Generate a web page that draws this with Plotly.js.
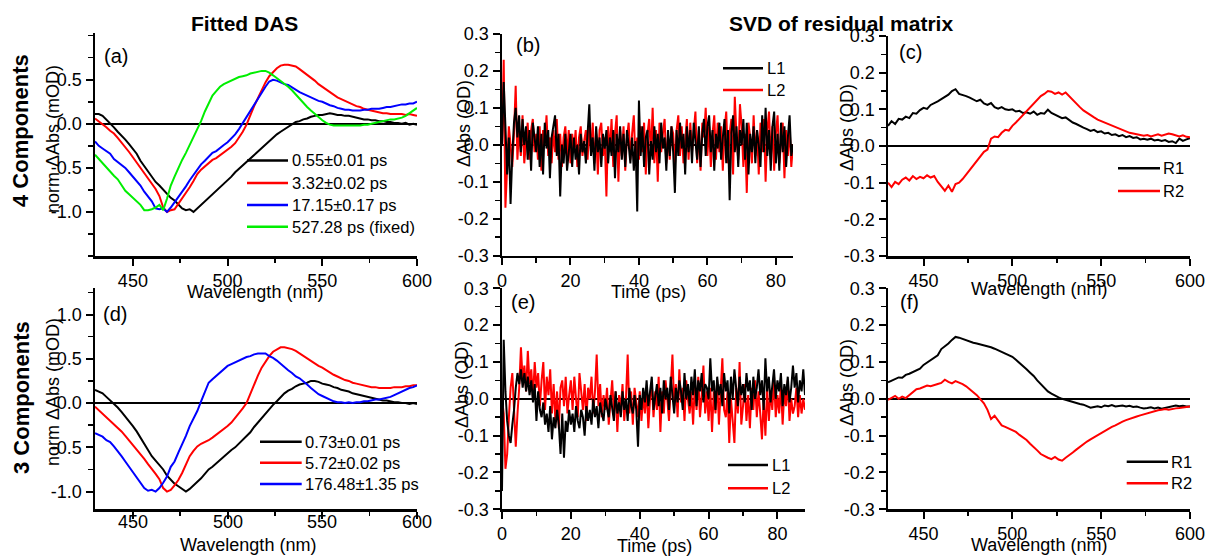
<!DOCTYPE html>
<html><head><meta charset="utf-8">
<script src="https://cdn.plot.ly/plotly-3.0.1.min.js"></script>
<style>html,body{margin:0;padding:0;background:#fff}#chart{width:1206px;height:558px}</style>
</head><body><div id="chart"></div>
<script>
// ---------------- DATA ----------------
const wavelength = [
430,432,434,436,438,440,442,444,446,448,
450,452,454,456,458,460,462,464,466,468,
470,472,474,476,478,480,482,484,486,488,
490,492,494,496,498,500,502,504,506,508,
510,512,514,516,518,520,522,524,526,528,
530,532,534,536,538,540,542,544,546,548,
550,552,554,556,558,560,562,564,566,568,
570,572,574,576,578,580,582,584,586,588,
590,592,594,596,598,600];

const time = [
0,0.5,1,1.5,2,2.5,3,3.5,4,4.5,
5,5.5,6,6.5,7,7.5,8,8.5,9,9.5,
10,10.5,11,11.5,12,12.5,13,13.5,14,14.5,
15,15.5,16,16.5,17,17.5,18,18.5,19,19.5,
20,20.5,21,21.5,22,22.5,23,23.5,24,24.5,
25,25.5,26,26.5,27,27.5,28,28.5,29,29.5,
30,30.5,31,31.5,32,32.5,33,33.5,34,34.5,
35,35.5,36,36.5,37,37.5,38,38.5,39,39.5,
40,40.5,41,41.5,42,42.5,43,43.5,44,44.5,
45,45.5,46,46.5,47,47.5,48,48.5,49,49.5,
50,50.5,51,51.5,52,52.5,53,53.5,54,54.5,
55,55.5,56,56.5,57,57.5,58,58.5,59,59.5,
60,60.5,61,61.5,62,62.5,63,63.5,64,64.5,
65,65.5,66,66.5,67,67.5,68,68.5,69,69.5,
70,70.5,71,71.5,72,72.5,73,73.5,74,74.5,
75,75.5,76,76.5,77,77.5,78,78.5,79,79.5,
80,80.5,81,81.5,82,82.5,83,83.5,84,84.5,
85,85.5,86,86.5,87,87.5,88];

// (a) 4-component DAS
const das4_055 = [
0.11,0.11,0.09,0.05,0.01,-0.04,-0.09,-0.13,-0.18,-0.23,
-0.28,-0.34,-0.42,-0.48,-0.54,-0.6,-0.66,-0.7,-0.75,-0.8,
-0.84,-0.87,-0.92,-0.96,-0.98,-0.97,-1.0,-0.96,-0.93,-0.88,
-0.84,-0.8,-0.77,-0.72,-0.68,-0.64,-0.6,-0.55,-0.51,-0.47,
-0.43,-0.39,-0.35,-0.31,-0.27,-0.23,-0.19,-0.16,-0.12,-0.09,
-0.06,-0.03,0.0,0.02,0.03,0.05,0.06,0.08,0.09,0.1,
0.1,0.11,0.12,0.11,0.1,0.1,0.09,0.09,0.08,0.07,
0.06,0.05,0.05,0.04,0.04,0.03,0.03,0.02,0.02,0.01,
0.01,0.0,0.01,-0.01,0.0,-0.01];
const das4_332 = [
0.06,0.03,-0.01,-0.04,-0.08,-0.11,-0.16,-0.21,-0.26,-0.32,
-0.38,-0.44,-0.5,-0.56,-0.62,-0.68,-0.74,-0.82,-0.95,-1.0,
-0.98,-0.97,-0.91,-0.85,-0.78,-0.72,-0.65,-0.57,-0.52,-0.48,
-0.44,-0.41,-0.39,-0.36,-0.33,-0.3,-0.26,-0.22,-0.16,-0.09,
-0.01,0.1,0.2,0.29,0.38,0.47,0.54,0.59,0.63,0.66,
0.67,0.67,0.66,0.65,0.62,0.59,0.56,0.52,0.49,0.45,
0.42,0.39,0.36,0.33,0.3,0.28,0.26,0.24,0.22,0.2,
0.19,0.17,0.16,0.15,0.14,0.13,0.12,0.12,0.11,0.11,
0.11,0.11,0.1,0.11,0.1,0.09];
const das4_1715 = [
-0.2,-0.25,-0.28,-0.31,-0.34,-0.4,-0.43,-0.47,-0.5,-0.55,
-0.6,-0.64,-0.7,-0.77,-0.82,-0.88,-0.96,-0.97,-0.96,-1.0,
-0.95,-0.89,-0.84,-0.77,-0.71,-0.64,-0.58,-0.51,-0.46,-0.42,
-0.37,-0.33,-0.31,-0.27,-0.24,-0.21,-0.17,-0.12,-0.06,0.01,
0.08,0.14,0.22,0.29,0.35,0.42,0.48,0.5,0.49,0.47,
0.45,0.44,0.41,0.39,0.36,0.34,0.32,0.3,0.28,0.26,
0.25,0.23,0.21,0.2,0.18,0.17,0.16,0.16,0.15,0.15,
0.15,0.16,0.16,0.17,0.17,0.17,0.18,0.19,0.19,0.2,
0.21,0.22,0.22,0.23,0.23,0.25];
const das4_52728 = [
-0.35,-0.4,-0.44,-0.49,-0.54,-0.59,-0.63,-0.7,-0.76,-0.8,
-0.84,-0.87,-0.92,-0.98,-0.98,-0.97,-0.95,-0.92,-0.98,-0.85,
-0.7,-0.6,-0.5,-0.41,-0.33,-0.24,-0.16,-0.06,0.03,0.14,
0.24,0.32,0.37,0.42,0.45,0.47,0.49,0.51,0.53,0.54,
0.55,0.57,0.58,0.59,0.6,0.6,0.58,0.55,0.52,0.49,
0.46,0.42,0.38,0.33,0.28,0.23,0.19,0.15,0.11,0.07,
0.04,0.01,-0.01,-0.02,-0.02,-0.02,-0.02,-0.02,-0.02,-0.02,
-0.02,-0.01,-0.01,0.0,0.01,0.02,0.03,0.04,0.05,0.05,
0.06,0.07,0.09,0.12,0.15,0.18];

// (d) 3-component DAS
const das3_073 = [
0.15,0.13,0.11,0.07,0.03,0.0,-0.05,-0.1,-0.15,-0.2,
-0.26,-0.32,-0.39,-0.46,-0.53,-0.6,-0.65,-0.7,-0.75,-0.82,
-0.87,-0.91,-0.94,-0.97,-1.0,-0.97,-0.93,-0.9,-0.85,-0.8,
-0.75,-0.72,-0.68,-0.64,-0.6,-0.57,-0.53,-0.5,-0.46,-0.42,
-0.38,-0.33,-0.27,-0.22,-0.16,-0.11,-0.07,-0.02,0.02,0.07,
0.11,0.14,0.16,0.19,0.21,0.22,0.23,0.25,0.25,0.24,
0.22,0.21,0.2,0.18,0.17,0.15,0.14,0.13,0.11,0.1,
0.09,0.08,0.07,0.06,0.05,0.04,0.03,0.03,0.02,0.01,
0.01,0.0,0.0,-0.01,0.0,-0.01];
const das3_572 = [
-0.04,-0.08,-0.12,-0.15,-0.19,-0.23,-0.28,-0.32,-0.37,-0.42,
-0.47,-0.52,-0.58,-0.63,-0.69,-0.74,-0.8,-0.86,-0.96,-1.0,
-0.98,-0.93,-0.87,-0.79,-0.7,-0.6,-0.54,-0.49,-0.46,-0.44,
-0.42,-0.39,-0.36,-0.33,-0.29,-0.26,-0.22,-0.17,-0.12,-0.06,
0.0,0.11,0.21,0.31,0.4,0.47,0.53,0.58,0.61,0.63,
0.63,0.62,0.61,0.59,0.56,0.53,0.5,0.48,0.45,0.42,
0.4,0.37,0.35,0.32,0.3,0.28,0.26,0.25,0.23,0.22,
0.21,0.2,0.19,0.18,0.18,0.17,0.17,0.17,0.17,0.18,
0.18,0.18,0.19,0.19,0.2,0.2];
const das3_17648 = [
-0.34,-0.36,-0.38,-0.42,-0.44,-0.49,-0.54,-0.6,-0.66,-0.72,
-0.79,-0.84,-0.9,-0.96,-0.99,-0.98,-1.0,-0.96,-0.9,-0.83,
-0.72,-0.66,-0.56,-0.47,-0.37,-0.26,-0.18,-0.09,0.02,0.13,
0.23,0.27,0.31,0.35,0.38,0.42,0.44,0.46,0.48,0.5,
0.52,0.53,0.55,0.56,0.56,0.56,0.53,0.51,0.48,0.44,
0.41,0.37,0.34,0.3,0.28,0.25,0.21,0.17,0.13,0.1,
0.08,0.06,0.04,0.02,0.01,0.01,0.0,0.01,0.0,0.01,
0.01,0.02,0.02,0.03,0.04,0.04,0.05,0.06,0.07,0.09,
0.11,0.13,0.15,0.17,0.18,0.2];

// (b) left singular vectors, 4 components
const svd4_L1 = [
0.0,0.17,0.05,-0.08,0.02,-0.16,-0.03,0.06,0.1,0.02,
0.08,-0.02,0.07,0.0,0.05,-0.04,0.04,-0.07,0.06,0.01,
-0.02,0.05,-0.06,0.03,-0.08,0.06,-0.01,0.04,-0.09,0.02,
0.05,0.08,-0.03,0.03,-0.14,0.0,-0.05,0.03,-0.07,-0.02,
0.03,-0.06,0.02,-0.04,0.0,-0.08,0.03,-0.02,0.01,-0.05,
0.04,0.11,-0.03,0.02,-0.07,0.05,-0.02,0.02,-0.06,0.03,
-0.01,0.04,-0.05,0.02,-0.03,0.04,-0.09,0.03,-0.02,0.05,
-0.04,0.03,-0.06,0.04,0.0,-0.05,0.02,-0.07,0.01,-0.18,
0.12,-0.03,0.05,-0.06,0.02,0.04,-0.08,0.01,-0.04,0.05,
-0.02,0.03,-0.05,0.06,-0.01,0.02,-0.07,0.04,-0.03,0.05,
-0.02,-0.13,0.04,-0.03,0.06,-0.01,0.03,-0.08,0.05,-0.02,
0.04,-0.05,0.06,0.0,-0.04,0.05,-0.06,0.03,0.07,-0.03,
0.05,0.08,-0.02,0.04,-0.07,0.03,-0.01,0.06,-0.04,0.02,
0.07,-0.05,0.04,-0.15,0.03,0.08,-0.02,0.05,-0.06,0.04,
0.0,0.07,-0.04,0.06,-0.08,0.03,-0.02,0.05,-0.05,0.04,
0.0,-0.06,0.08,-0.02,0.1,-0.03,0.04,-0.07,0.05,0.09,
-0.05,0.03,-0.07,0.06,-0.02,0.05,-0.06,0.02,0.08,-0.03,
0.0];
const svd4_L2 = [
0.0,0.23,-0.17,-0.05,0.05,0.0,-0.06,0.03,0.16,-0.04,
0.05,-0.03,0.08,-0.05,0.02,0.06,-0.04,0.04,0.07,-0.02,
0.03,-0.04,0.05,-0.07,0.04,0.0,0.08,-0.03,0.02,-0.05,
0.04,-0.02,0.07,-0.04,0.03,-0.06,0.02,0.05,-0.03,0.04,
-0.05,0.03,-0.02,0.04,-0.06,0.02,0.05,-0.03,0.01,0.04,
-0.04,0.05,-0.02,0.06,-0.05,0.03,-0.08,0.04,0.06,-0.03,
0.02,-0.14,0.05,-0.02,0.07,-0.06,0.03,0.08,-0.1,0.04,
-0.03,0.05,-0.07,0.02,0.06,-0.04,0.03,0.08,-0.05,0.02,
-0.04,0.05,-0.02,0.06,-0.08,0.03,0.07,-0.03,0.1,-0.05,
0.04,-0.1,0.06,-0.02,0.03,0.07,-0.05,0.02,-0.04,0.05,
0.03,-0.06,0.04,0.08,-0.03,0.05,-0.05,0.02,0.07,-0.04,
0.06,-0.02,0.03,0.09,-0.05,0.04,-0.07,0.06,0.02,0.1,
-0.03,0.05,-0.06,0.03,0.08,-0.04,0.06,-0.02,0.05,-0.07,
0.04,0.09,-0.05,0.03,0.07,-0.08,0.13,0.02,-0.04,0.11,
0.05,-0.06,0.03,-0.13,0.06,0.02,-0.05,0.08,-0.03,0.04,
-0.08,0.06,-0.02,0.07,-0.1,0.04,0.09,-0.04,0.05,-0.07,
0.03,0.08,-0.05,0.02,0.06,-0.09,0.04,-0.03,0.05,-0.06,
0.0];

// (e) left singular vectors, 3 components
const svd3_L1 = [
-0.25,0.16,0.02,-0.06,-0.1,-0.12,-0.07,-0.03,0.03,0.07,
0.04,0.08,0.03,0.07,0.02,0.06,0.01,0.05,-0.01,0.04,
-0.06,0.02,-0.03,-0.05,-0.01,-0.07,-0.04,-0.09,-0.02,-0.11,
-0.05,-0.08,-0.03,-0.07,-0.15,-0.04,-0.16,-0.06,-0.09,-0.03,
-0.07,-0.04,-0.09,-0.02,-0.06,-0.08,-0.03,-0.05,-0.1,-0.02,
-0.06,-0.03,-0.07,0.0,-0.05,-0.02,-0.08,-0.01,-0.04,-0.06,
0.0,-0.03,-0.05,0.01,-0.02,-0.06,0.02,-0.04,-0.01,-0.05,
0.02,-0.03,0.0,-0.06,0.03,-0.02,-0.04,0.01,-0.03,-0.13,
0.01,-0.03,0.03,-0.01,0.05,-0.02,0.02,0.06,-0.03,0.01,
0.04,-0.02,0.03,-0.04,0.05,0.0,0.03,-0.03,0.06,0.01,
-0.04,0.03,-0.01,0.05,0.02,-0.03,0.07,0.0,0.04,-0.02,
0.06,0.01,0.08,-0.02,0.05,0.02,0.07,-0.01,0.04,0.03,
0.0,0.11,0.02,0.05,-0.03,0.06,0.01,0.04,-0.02,0.07,
0.02,0.05,-0.04,0.06,0.0,0.08,0.03,-0.02,0.06,0.01,
0.04,-0.01,0.07,0.02,0.05,-0.03,0.06,0.0,0.03,0.08,
0.01,0.05,-0.03,0.11,0.02,0.06,-0.01,0.04,0.08,0.0,
0.05,0.02,0.07,-0.02,0.04,0.01,0.06,-0.01,0.03,0.09,
0.03,0.07,-0.01,0.05,0.02,0.08,0.01];
const svd3_L2 = [
0.0,-0.04,-0.19,-0.15,-0.05,0.03,0.07,-0.02,-0.13,-0.04,
0.03,0.14,0.05,0.09,0.02,0.13,0.04,0.08,0.0,0.1,
0.03,0.07,-0.02,0.05,0.1,-0.03,0.06,0.01,0.08,-0.04,
0.04,-0.06,0.02,-0.08,0.03,0.05,-0.02,0.06,-0.04,0.01,
0.05,-0.03,0.06,0.0,-0.05,0.07,0.02,-0.03,0.04,-0.06,
0.03,0.0,0.06,-0.04,0.02,0.12,-0.02,0.04,-0.05,0.01,
-0.03,0.03,-0.07,0.0,0.05,-0.04,0.02,-0.09,0.01,-0.03,
0.04,-0.06,0.0,0.12,-0.04,0.02,-0.07,0.03,-0.02,-0.05,
0.02,-0.06,0.01,-0.04,0.03,-0.08,0.0,0.04,-0.05,0.02,
-0.03,0.06,-0.09,0.02,-0.04,0.05,0.0,-0.06,0.03,0.12,
-0.02,0.04,-0.05,0.08,-0.01,0.03,-0.06,0.05,0.0,-0.04,
0.02,-0.07,0.04,-0.03,0.06,-0.05,0.01,0.09,-0.04,0.02,
-0.06,0.03,-0.09,0.02,-0.04,0.05,-0.07,0.01,0.11,-0.03,
-0.05,0.02,-0.12,0.0,-0.06,-0.12,0.03,-0.04,0.1,-0.07,
-0.02,0.04,-0.06,0.01,-0.08,0.03,-0.03,0.05,-0.05,0.02,
-0.04,-0.11,0.0,-0.1,0.03,-0.06,0.02,-0.03,0.06,-0.05,
0.01,-0.04,0.04,-0.07,0.02,-0.02,0.05,-0.06,0.0,-0.04,
-0.02,0.03,-0.05,0.01,-0.04,0.0,-0.03];

// (c) right singular vectors, 4 components
const svd4_R1 = [
0.055,0.068,0.060,0.074,0.072,0.080,0.076,0.090,0.088,0.098,
0.104,0.101,0.112,0.116,0.122,0.128,0.135,0.140,0.150,0.155,
0.142,0.140,0.136,0.132,0.128,0.122,0.126,0.116,0.112,0.117,
0.106,0.102,0.106,0.100,0.098,0.100,0.094,0.096,0.090,0.092,
0.088,0.094,0.085,0.090,0.088,0.099,0.090,0.085,0.082,0.076,
0.078,0.070,0.064,0.060,0.054,0.050,0.046,0.041,0.044,0.038,
0.040,0.034,0.036,0.030,0.032,0.027,0.030,0.024,0.027,0.022,
0.024,0.018,0.020,0.017,0.020,0.015,0.017,0.014,0.016,0.011,
0.013,0.008,0.020,0.014,0.018,0.021];
const svd4_R2 = [
-0.100,-0.112,-0.098,-0.104,-0.092,-0.086,-0.094,-0.082,-0.090,-0.084,
-0.088,-0.080,-0.086,-0.082,-0.098,-0.110,-0.122,-0.108,-0.125,-0.104,
-0.100,-0.090,-0.078,-0.064,-0.054,-0.042,-0.030,-0.016,-0.010,0.020,
0.026,0.024,0.036,0.044,0.042,0.055,0.064,0.074,0.086,0.096,
0.106,0.114,0.126,0.136,0.142,0.150,0.148,0.142,0.146,0.140,
0.146,0.136,0.124,0.114,0.106,0.097,0.090,0.083,0.078,0.072,
0.068,0.064,0.058,0.055,0.050,0.047,0.044,0.040,0.036,0.034,
0.033,0.030,0.028,0.030,0.026,0.028,0.032,0.028,0.031,0.034,
0.032,0.030,0.026,0.029,0.025,0.024];

// (f) right singular vectors, 3 components
const svd3_R1 = [
0.045,0.050,0.054,0.058,0.057,0.065,0.068,0.072,0.078,0.082,
0.092,0.098,0.106,0.112,0.118,0.135,0.142,0.150,0.160,0.168,
0.166,0.162,0.160,0.156,0.152,0.150,0.148,0.145,0.142,0.140,
0.136,0.132,0.128,0.124,0.120,0.114,0.106,0.098,0.090,0.080,
0.071,0.062,0.050,0.040,0.030,0.020,0.014,0.008,0.004,0.000,
-0.003,-0.006,-0.010,-0.013,-0.014,-0.016,-0.020,-0.024,-0.022,-0.020,
-0.023,-0.018,-0.020,-0.017,-0.021,-0.020,-0.018,-0.021,-0.019,-0.022,
-0.021,-0.024,-0.026,-0.025,-0.023,-0.026,-0.024,-0.027,-0.025,-0.024,
-0.022,-0.018,-0.020,-0.019,-0.021,-0.021];
const svd3_R2 = [
-0.003,0.002,0.008,0.000,0.006,0.002,0.010,0.020,0.026,0.028,
0.032,0.036,0.034,0.036,0.040,0.043,0.052,0.046,0.042,0.048,
0.045,0.040,0.034,0.025,0.018,0.010,0.000,-0.012,-0.030,-0.055,
-0.046,-0.060,-0.072,-0.076,-0.080,-0.085,-0.090,-0.098,-0.104,-0.112,
-0.122,-0.130,-0.140,-0.150,-0.156,-0.160,-0.164,-0.158,-0.165,-0.168,
-0.160,-0.154,-0.146,-0.138,-0.130,-0.124,-0.116,-0.110,-0.104,-0.098,
-0.093,-0.088,-0.082,-0.076,-0.072,-0.066,-0.062,-0.058,-0.054,-0.050,
-0.048,-0.045,-0.042,-0.040,-0.036,-0.034,-0.031,-0.030,-0.028,-0.030,
-0.027,-0.026,-0.025,-0.023,-0.022,-0.021];

// labels
const das4Names = ['0.55\u00b10.01 ps','3.32\u00b10.02 ps','17.15\u00b10.17 ps','527.28 ps (fixed)'];
const das3Names = ['0.73\u00b10.01 ps','5.72\u00b10.02 ps','176.48\u00b11.35 ps'];
const wlTicks = [450,500,550,600];
const wlTickText = ['450','500','550','600'];
const timeTicks = [0,20,40,60,80];
const timeTickText = ['0','20','40','60','80'];
const dasTicksA = [-1,-0.5,0,0.5];
const dasTickTextA = ['-1.0','-0.5','0.0','0.5'];
const dasTicksD = [-1,-0.5,0,0.5,1];
const dasTickTextD = ['-1.0','-0.5','0.0','0.5','1.0'];
const odTicks = [-0.3,-0.2,-0.1,0,0.1,0.2,0.3];
const odTickText = ['-0.3','-0.2','-0.1','0.0','0.1','0.2','0.3'];

// ---------------- LAYOUT ----------------
const W = 1206, H = 558;
const px = v => v / W;
const py = v => 1 - v / H;
const FONT = 'Arial, "Liberation Sans", sans-serif';
const BLACK = '#000000', RED = '#ff0000', BLUE = '#0000ff', GREEN = '#00ee00';
const TICKSIZE = 18, TITLESIZE = 18, LEGSIZE = 16.5;

function xAx(domPx, range, tv, tt, minorD, anchor, showLabels) {
  return {domain:[px(domPx[0]), px(domPx[1])], range:range, anchor:anchor,
    showline:true, linecolor:BLACK, linewidth:2.5, showgrid:false, zeroline:false,
    ticks:'outside', ticklen:7, tickwidth:2, tickcolor:BLACK,
    tickmode:'array', tickvals:tv, ticktext:tt, showticklabels:showLabels !== false,
    tickfont:{family:FONT, size:TICKSIZE, color:BLACK},
    minor:{tickmode:'linear', tick0:0, dtick:minorD, ticks:'outside', ticklen:4.5, tickwidth:1.5, tickcolor:BLACK, showgrid:false},
    fixedrange:true};
}
function yAx(domPx, range, tv, tt, minorD, anchor) {
  return {domain:[py(domPx[1]), py(domPx[0])], range:range, anchor:anchor,
    showline:true, linecolor:BLACK, linewidth:2.5, showgrid:false,
    zeroline:true, zerolinecolor:BLACK, zerolinewidth:2,
    ticks:'outside', ticklen:7, tickwidth:2, tickcolor:BLACK,
    tickmode:'array', tickvals:tv, ticktext:tt,
    tickfont:{family:FONT, size:TICKSIZE, color:BLACK},
    minor:{tickmode:'linear', tick0:0, dtick:minorD, ticks:'outside', ticklen:4.5, tickwidth:1.5, tickcolor:BLACK, showgrid:false},
    fixedrange:true};
}

const traces = [];
function line(x, y, color, name, xa, ya) {
  traces.push({type:'scatter', mode:'lines', x:x, y:y, name:name,
    line:{color:color, width:2}, xaxis:xa, yaxis:ya, showlegend:false, hoverinfo:'skip'});
}
// (a)
line(wavelength, das4_055, BLACK, das4Names[0], 'x', 'y');
line(wavelength, das4_332, RED, das4Names[1], 'x', 'y');
line(wavelength, das4_1715, BLUE, das4Names[2], 'x', 'y');
line(wavelength, das4_52728, GREEN, das4Names[3], 'x', 'y');
// (b)
line(time, svd4_L2, RED, 'L2', 'x2', 'y2');
line(time, svd4_L1, BLACK, 'L1', 'x2', 'y2');
// (c)
line(wavelength, svd4_R1, BLACK, 'R1', 'x3', 'y3');
line(wavelength, svd4_R2, RED, 'R2', 'x3', 'y3');
// (d)
line(wavelength, das3_073, BLACK, das3Names[0], 'x4', 'y4');
line(wavelength, das3_572, RED, das3Names[1], 'x4', 'y4');
line(wavelength, das3_17648, BLUE, das3Names[2], 'x4', 'y4');
// (e)
line(time, svd3_L2, RED, 'L2', 'x5', 'y5');
line(time, svd3_L1, BLACK, 'L1', 'x5', 'y5');
// (f)
line(wavelength, svd3_R1, BLACK, 'R1', 'x6', 'y6');
line(wavelength, svd3_R2, RED, 'R2', 'x6', 'y6');

function ann(text, xp, yp, size, opts) {
  return Object.assign({text:text, x:px(xp), y:py(yp), xref:'paper', yref:'paper',
    showarrow:false, xanchor:'center', yanchor:'middle',
    font:{family:FONT, size:size, color:BLACK}}, opts || {});
}

const annotations = [
  ann('<b>Fitted DAS</b>', 244, 23, 21),
  ann('<b>SVD of residual matrix</b>', 841, 23, 21),
  ann('<b>4 Components</b>', 21, 131, 22, {textangle:-90}),
  ann('<b>3 Components</b>', 21, 398, 22, {textangle:-90}),
  ann('(a)', 116, 56, 20),
  ann('(b)', 528, 45, 20),
  ann('(c)', 910, 52, 20),
  ann('(d)', 115, 314, 20),
  ann('(e)', 523, 302, 20),
  ann('(f)', 909, 302, 20),
  ann('norm \u0394Abs (mOD)', 53, 139, TITLESIZE, {textangle:-90}),
  ann('norm \u0394Abs (mOD)', 53, 392, TITLESIZE, {textangle:-90}),
  ann('\u0394Abs (OD)', 464, 124, TITLESIZE, {textangle:-90}),
  ann('\u0394Abs (OD)', 462, 385, TITLESIZE, {textangle:-90}),
  ann('\u0394Abs (OD)', 847, 128, TITLESIZE, {textangle:-90}),
  ann('\u0394Abs (OD)', 847, 383, TITLESIZE, {textangle:-90}),
  ann('Wavelength (nm)', 255, 292, TITLESIZE),
  ann('Wavelength (nm)', 248, 545, TITLESIZE),
  ann('Time (ps)', 648, 292, TITLESIZE),
  ann('Time (ps)', 654, 546, TITLESIZE),
  ann('Wavelength (nm)', 1039, 289, TITLESIZE),
  ann('Wavelength (nm)', 1039, 545, TITLESIZE)
];

// panel (d): tick labels sit tight under the axis in the original, so place them on the x4 scale
wlTicks.forEach((v, i) => {
  annotations.push({text:wlTickText[i], x:v, xref:'x4', y:py(521.5), yref:'paper',
    showarrow:false, xanchor:'center', yanchor:'middle', font:{family:FONT, size:TICKSIZE, color:BLACK}});
});

// hand-placed legends (line sample + label), one block per panel
const shapes = [];
function legendBlock(names, colors, x0, x1, xt, rows) {
  names.forEach((nm, i) => {
    shapes.push({type:'line', xref:'paper', yref:'paper', x0:px(x0), x1:px(x1), y0:py(rows[i]), y1:py(rows[i]),
      line:{color:colors[i], width:2.5}});
    annotations.push(ann(nm, xt, rows[i], LEGSIZE, {xanchor:'left'}));
  });
}
legendBlock(das4Names, [BLACK, RED, BLUE, GREEN], 247, 288, 290, [160.5, 183, 205, 226.7]);
legendBlock(das3Names, [BLACK, RED, BLUE], 260, 301.7, 303, [441.7, 462.7, 484]);
legendBlock(['L1','L2'], [BLACK, RED], 723, 763, 765, [68.3, 90]);
legendBlock(['L1','L2'], [BLACK, RED], 728, 768, 770, [465, 488.3]);
legendBlock(['R1','R2'], [BLACK, RED], 1118, 1160, 1161, [168.3, 191]);
legendBlock(['R1','R2'], [BLACK, RED], 1126.7, 1168, 1169, [461.7, 483.3]);

const layout = {
  width:W, height:H, margin:{l:0, r:0, t:0, b:0},
  paper_bgcolor:'#ffffff', plot_bgcolor:'rgba(0,0,0,0)',
  font:{family:FONT, size:17, color:BLACK},
  showlegend:false, hovermode:false,
  xaxis:  xAx([95, 417], [430, 600], wlTicks, wlTickText, 25, 'y'),
  yaxis:  yAx([33, 256], [-1.5, 1.03], dasTicksA, dasTickTextA, 0.25, 'x'),
  xaxis2: xAx([502, 793], [0, 85], timeTicks, timeTickText, 10, 'y2'),
  yaxis2: yAx([34, 255.7], [-0.3, 0.3], odTicks, odTickText, 0.05, 'x2'),
  xaxis3: xAx([888, 1190], [430, 600], wlTicks, wlTickText, 25, 'y3'),
  yaxis3: yAx([36, 256], [-0.3, 0.3], odTicks, odTickText, 0.05, 'x3'),
  xaxis4: xAx([95, 417], [430, 600], wlTicks, wlTickText, 25, 'y4', false),
  yaxis4: yAx([288, 509.3], [-1.2, 1.3], dasTicksD, dasTickTextD, 0.25, 'x4'),
  xaxis5: xAx([502, 805], [0, 88], timeTicks, timeTickText, 10, 'y5'),
  yaxis5: yAx([288.3, 509.3], [-0.3, 0.3], odTicks, odTickText, 0.05, 'x5'),
  xaxis6: xAx([888, 1190], [430, 600], wlTicks, wlTickText, 25, 'y6'),
  yaxis6: yAx([288.3, 509.3], [-0.3, 0.3], odTicks, odTickText, 0.05, 'x6'),
  annotations: annotations,
  shapes: shapes
};

Plotly.newPlot('chart', traces, layout, {staticPlot:true, displayModeBar:false, responsive:false});
</script>
</body></html>
